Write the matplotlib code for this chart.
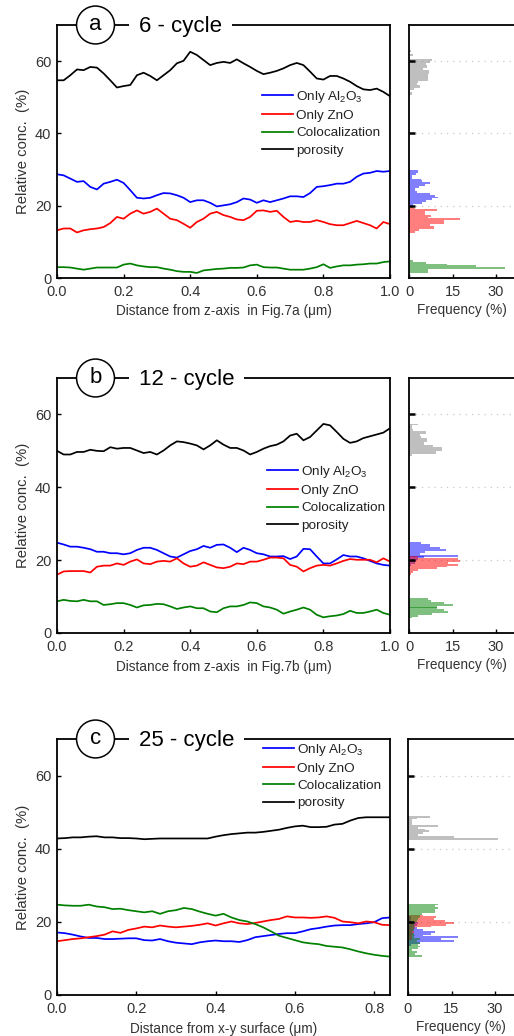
import numpy as np
import matplotlib
matplotlib.use("Agg")
import matplotlib.pyplot as plt

plt.rcParams['font.family'] = ['Liberation Sans', 'DejaVu Sans']
plt.rcParams['mathtext.fontset'] = 'custom'
plt.rcParams['mathtext.rm'] = 'Liberation Sans'
plt.rcParams['mathtext.it'] = 'Liberation Sans'
plt.rcParams['mathtext.default'] = 'regular'

# ---------------- data ----------------
x_ab = [round(0.02 * i, 2) for i in range(51)]      # 0.00 .. 1.00
x_c = [round(0.02 * i, 2) for i in range(43)]       # 0.00 .. 0.84

a_porosity = [54.7, 54.7, 56.1, 57.7, 57.5, 58.4, 58.2, 56.6, 54.7, 52.7, 53.1, 53.4, 56.1, 56.8, 55.9,
              54.7, 56.1, 57.5, 59.4, 60.1, 62.6, 61.7, 60.3, 58.9, 59.5, 59.8, 59.5, 60.5, 59.4, 58.4,
              57.3, 56.4, 56.8, 57.3, 58.0, 58.9, 59.5, 58.9, 57.1, 55.2, 54.9, 55.9, 55.9, 55.2, 54.3,
              53.1, 52.2, 52.0, 52.4, 51.5, 50.3]
a_al2o3 = [28.7, 28.4, 27.5, 26.6, 26.8, 25.2, 24.5, 26.1, 26.6, 27.2, 26.3, 24.3, 22.2, 22.0, 22.2,
           22.9, 23.5, 23.4, 22.9, 22.2, 21.0, 21.5, 21.5, 20.8, 19.8, 20.1, 20.4, 21.0, 22.0, 21.7,
           20.8, 21.5, 21.0, 21.5, 22.0, 22.6, 22.6, 22.4, 23.5, 25.2, 25.4, 25.7, 26.1, 26.1, 26.6,
           28.0, 28.9, 29.1, 29.6, 29.4, 29.6]
a_zno = [13.2, 13.7, 13.7, 12.6, 13.2, 13.5, 13.7, 14.1, 15.2, 16.9, 16.4, 17.8, 18.7, 17.8, 18.3,
         19.2, 17.8, 16.4, 16.0, 15.0, 13.9, 15.5, 16.4, 17.8, 18.3, 17.4, 16.9, 16.2, 16.0, 16.9,
         18.6, 18.7, 18.3, 18.6, 16.9, 15.5, 15.8, 15.5, 15.5, 16.0, 15.5, 14.9, 14.6, 14.6, 15.2,
         15.8, 15.2, 14.6, 13.7, 15.5, 14.9]
a_coloc = [3.0, 3.0, 2.9, 2.6, 2.3, 2.6, 2.9, 2.9, 2.9, 2.9, 3.7, 4.0, 3.5, 3.2, 3.0,
           3.0, 2.6, 2.3, 1.9, 1.7, 1.7, 1.4, 2.1, 2.3, 2.5, 2.6, 2.8, 2.8, 2.9, 3.5,
           3.7, 3.0, 2.9, 2.9, 2.6, 2.3, 2.3, 2.3, 2.6, 3.0, 3.8, 2.8, 3.2, 3.5, 3.5,
           3.7, 3.8, 4.0, 4.0, 4.4, 4.6]

b_porosity = [50.0, 49.0, 49.0, 49.7, 49.7, 50.3, 50.0, 49.9, 51.0, 50.6, 50.8, 50.8, 50.1, 49.4, 49.7,
              49.0, 50.1, 51.5, 52.6, 52.4, 52.0, 51.5, 50.4, 51.5, 52.9, 51.7, 50.8, 50.8, 50.1, 49.0,
              49.7, 50.6, 51.3, 51.7, 52.6, 54.2, 54.7, 52.9, 53.8, 55.6, 57.4, 57.0, 55.2, 53.3, 52.2,
              52.6, 53.5, 54.0, 54.5, 55.0, 56.2]
b_al2o3 = [24.8, 24.3, 23.7, 23.7, 23.4, 23.0, 22.3, 22.3, 21.9, 21.9, 21.6, 21.9, 22.8, 23.4, 23.4,
           22.8, 21.9, 21.0, 20.7, 21.6, 22.5, 23.0, 23.9, 23.4, 24.2, 24.3, 23.4, 22.2, 23.4, 22.8,
           21.9, 21.6, 21.0, 21.0, 21.1, 20.3, 21.0, 23.1, 23.0, 21.0, 19.1, 19.1, 20.2, 21.4, 21.0,
           21.0, 20.5, 19.8, 19.1, 18.7, 18.5]
b_zno = [16.0, 16.9, 17.0, 17.0, 17.0, 16.6, 18.2, 18.5, 18.5, 19.1, 18.7, 19.6, 20.2, 19.1, 18.9,
         19.6, 19.8, 19.6, 20.5, 19.1, 18.2, 18.5, 19.4, 18.7, 18.0, 17.8, 18.2, 19.1, 18.9, 19.6,
         19.6, 20.1, 20.7, 20.7, 20.5, 18.7, 18.2, 16.9, 17.8, 18.5, 18.7, 18.5, 19.1, 19.8, 20.3,
         20.1, 20.1, 20.1, 19.4, 20.5, 19.6]
b_coloc = [8.7, 9.1, 8.8, 8.7, 9.1, 8.7, 8.7, 7.7, 7.9, 8.2, 8.2, 7.7, 7.0, 7.6, 7.7,
           8.0, 7.9, 7.3, 6.6, 7.0, 7.3, 6.8, 6.8, 5.9, 5.7, 6.8, 7.3, 7.3, 7.7, 8.4,
           8.2, 7.3, 7.0, 6.4, 5.3, 5.9, 6.4, 7.0, 6.4, 5.0, 4.3, 4.6, 4.8, 5.2, 6.1,
           5.5, 5.5, 5.9, 6.4, 5.5, 5.0]

c_porosity = [42.8, 42.9, 43.1, 43.1, 43.3, 43.4, 43.1, 43.1, 42.9, 42.9, 42.8, 42.6, 42.7, 42.8, 42.8,
              42.8, 42.8, 42.8, 42.8, 42.8, 43.3, 43.7, 44.0, 44.2, 44.4, 44.4, 44.6, 44.9, 45.2, 45.7,
              46.1, 46.3, 45.9, 45.9, 46.0, 46.6, 46.8, 47.7, 48.4, 48.6, 48.6, 48.6, 48.6]
c_al2o3 = [17.1, 16.9, 16.5, 16.0, 15.6, 15.6, 15.3, 15.3, 15.4, 15.5, 15.5, 15.0, 14.9, 15.3, 14.7,
           14.3, 14.1, 13.9, 14.4, 14.7, 14.9, 14.7, 14.7, 14.5, 15.0, 15.8, 16.1, 16.4, 16.7, 16.9,
           16.9, 17.4, 18.0, 18.3, 18.7, 19.0, 19.1, 19.1, 19.4, 19.6, 19.9, 21.0, 21.2]
c_zno = [14.7, 15.0, 15.3, 15.5, 15.8, 16.1, 16.5, 17.4, 17.0, 17.8, 18.2, 18.7, 18.5, 19.0, 18.7,
         18.5, 18.7, 18.9, 19.2, 19.6, 19.0, 19.6, 20.1, 19.6, 19.4, 19.7, 20.1, 20.5, 20.8, 21.5,
         21.2, 21.2, 21.1, 21.2, 21.5, 21.1, 20.1, 19.9, 19.6, 20.1, 19.9, 19.2, 19.1]
c_coloc = [24.7, 24.5, 24.4, 24.4, 24.7, 24.2, 24.0, 23.5, 23.6, 23.2, 22.9, 22.6, 22.9, 22.2, 22.9,
           23.2, 23.8, 23.5, 22.8, 22.2, 21.7, 22.2, 21.2, 20.5, 20.1, 19.4, 18.5, 17.4, 16.2, 15.6,
           15.0, 14.4, 14.1, 13.9, 13.4, 13.2, 13.0, 12.5, 11.9, 11.4, 11.0, 10.7, 10.5]

# histograms: lowest bin edge and frequencies (%) of consecutive 0.5-wide bins
bin_width = 0.5
ha_porosity_start = 50.5
ha_porosity = [1.2, 1.2, 0.5, 1.8, 3.8, 3.8, 2.6, 3.2, 6.7, 6.7, 6.7, 6.7, 6.9, 6.9, 4.9, 6.1, 6.1,
               5.7, 7.2, 8.0, 0.0, 0.0, 1.5, 0.0, 0.7]
ha_al2o3_start = 20.0
ha_al2o3 = [1.5, 4.4, 6.0, 7.8, 9.9, 9.0, 7.2, 2.6, 2.2, 2.1, 3.5, 5.5, 7.2, 4.6, 4.0, 1.1, 1.1, 2.5,
            3.2, 3.2]
ha_zno_start = 12.5
ha_zno = [2.0, 3.4, 8.6, 8.6, 7.2, 12.0, 12.0, 17.6, 6.4, 7.5, 5.5, 5.5, 9.5, 2.1, 1.5]
ha_coloc_start = 1.5
ha_coloc = [6.5, 6.5, 33.0, 23.0, 13.0, 6.0, 1.5]

hb_porosity_start = 48.5
hb_porosity = [1.2, 9.2, 9.2, 11.5, 11.5, 8.4, 5.0, 5.0, 6.1, 6.1, 4.0, 3.8, 5.7, 5.7, 1.5, 0.9, 0.9, 3.0]
hb_al2o3_start = 18.5
hb_al2o3 = [0.8, 2.0, 2.5, 3.0, 5.0, 16.8, 3.8, 5.5, 12.6, 10.7, 7.2, 7.2, 4.1]
hb_zno_start = 16.0
hb_zno = [0.8, 1.5, 3.0, 9.5, 13.0, 17.0, 13.6, 17.6, 17.0, 3.0]
hb_coloc_start = 4.0
hb_coloc = [1.0, 3.2, 7.8, 13.6, 12.2, 9.5, 9.5, 15.1, 12.2, 7.6, 6.5]

hc_porosity_start = 42.5
hc_porosity = [31.2, 16.0, 3.5, 5.0, 7.3, 6.0, 3.5, 10.3, 1.5, 1.3, 1.3, 3.0, 7.7]
hc_al2o3_start = 13.5
hc_al2o3 = [1.0, 4.0, 16.0, 11.5, 17.2, 5.0, 8.0, 9.2, 5.0, 3.0, 2.0, 3.0, 3.5, 1.0, 1.0, 1.0]
hc_zno_start = 15.0
hc_zno = [1.5, 1.5, 1.5, 1.8, 2.0, 1.8, 2.5, 8.1, 13.2, 16.0, 12.6, 9.0, 9.8, 5.0]
hc_coloc_start = 10.5
hc_coloc = [4.7, 2.5, 3.0, 1.5, 3.5, 4.0, 3.5, 4.0, 3.0, 4.0, 2.0, 2.5, 2.0, 1.5, 2.0, 2.0, 2.5, 2.0,
            2.5, 3.0, 3.5, 4.0, 4.0, 4.7, 9.2, 9.2, 10.4, 9.2, 10.4]

labels = ['Only Al$_2$O$_3$', 'Only ZnO', 'Colocalization', 'porosity']
line_colors = ['#0000ff', '#ff0000', '#008000', '#000000']
hist_colors = ['#808080', '#0000ff', '#ff0000', '#008000']

panel_letters = ['a', 'b', 'c']
panel_titles = ['6 - cycle', '12 - cycle', '25 - cycle']
xlabels = ['Distance from z-axis  in Fig.7a (\u03bcm)',
           'Distance from z-axis  in Fig.7b (\u03bcm)',
           'Distance from x-y surface (\u03bcm)']
xticks_main = [[0.0, 0.2, 0.4, 0.6, 0.8, 1.0], [0.0, 0.2, 0.4, 0.6, 0.8, 1.0], [0.0, 0.2, 0.4, 0.6, 0.8]]
xlims_main = [1.0, 1.0, 0.84]
yticks_main = [0, 20, 40, 60]
xticks_hist = [0, 15, 30]

panels = [
    (x_ab, [a_al2o3, a_zno, a_coloc, a_porosity],
     [(ha_porosity_start, ha_porosity), (ha_al2o3_start, ha_al2o3), (ha_zno_start, ha_zno), (ha_coloc_start, ha_coloc)]),
    (x_ab, [b_al2o3, b_zno, b_coloc, b_porosity],
     [(hb_porosity_start, hb_porosity), (hb_al2o3_start, hb_al2o3), (hb_zno_start, hb_zno), (hb_coloc_start, hb_coloc)]),
    (x_c, [c_al2o3, c_zno, c_coloc, c_porosity],
     [(hc_porosity_start, hc_porosity), (hc_al2o3_start, hc_al2o3), (hc_zno_start, hc_zno), (hc_coloc_start, hc_coloc)]),
]

# ---------------- layout ----------------
W, H = 514, 1036
fig = plt.figure(figsize=(W / 100, H / 100), dpi=100)
main_boxes = [(25, 278), (378, 633), (739, 995)]   # top, bottom pixel rows
main_left, main_right = 57, 390
hist_lefts = [409, 409, 408]
legend_anchor = [(0.616, 0.748), (0.631, 0.664), (0.619, 0.990)]
txt = '#333333'
spine_w = 1.3

for i, (xs, series, hists) in enumerate(panels):
    top, bot = main_boxes[i]
    ax = fig.add_axes([main_left / W, 1 - bot / H, (main_right - main_left) / W, (bot - top) / H])
    for ys, col, lab in zip(series, line_colors, labels):
        ax.plot(xs, ys, color=col, lw=1.25, label=lab)
    ax.set_xlim(0, xlims_main[i])
    ax.set_ylim(0, 70)
    ax.set_xticks(xticks_main[i])
    ax.set_xticklabels(['%.1f' % v for v in xticks_main[i]])
    ax.set_yticks(yticks_main)
    ax.tick_params(direction='in', length=3, width=1.0, labelsize=10.5, labelcolor=txt)
    ax.tick_params(axis='x', pad=5)
    ax.tick_params(axis='y', pad=4)
    for s in ax.spines.values():
        s.set_linewidth(spine_w)
    ax.set_ylabel('Relative conc.  (%)', fontsize=10.7, color=txt, labelpad=4)
    ax.set_xlabel(xlabels[i], fontsize=9.8, color=txt, labelpad=4)
    leg = ax.legend(loc='upper left', bbox_to_anchor=legend_anchor[i], frameon=False, fontsize=9.7,
                    handlelength=2.3, handletextpad=0.25, labelspacing=0.36, borderpad=0,
                    borderaxespad=0)
    for t in leg.get_texts():
        t.set_color('#222222')
    # panel badge and title sitting on the top spine
    ax.text(0.1156, 1.0, panel_letters[i], transform=ax.transAxes, ha='center', va='center',
            fontsize=16, zorder=10, clip_on=False,
            bbox=dict(boxstyle='circle,pad=0.38', fc='white', ec='black', lw=1.1))
    ax.annotate(panel_titles[i], xy=(0.246, 1.0), xycoords='axes fraction', xytext=(0, -5.3),
                textcoords='offset points', ha='left', va='baseline', fontsize=16, zorder=10,
                annotation_clip=False,
                bbox=dict(boxstyle='square,pad=0.45', fc='white', ec='none'))

    # histogram panel
    hl = hist_lefts[i]
    hx = fig.add_axes([hl / W, 1 - bot / H, (W - hl) / W, (bot - top) / H])
    for (start, freqs), col in zip(hists, hist_colors):
        edges = [start + bin_width * k for k in range(len(freqs))]
        hx.barh(edges, freqs, height=bin_width, align='edge', color=col, alpha=0.5, linewidth=0)
    hx.set_ylim(0, 70)
    hx.set_xlim(0, (W - hl) / 2.9)
    for g in [20, 40, 60]:
        hx.axhline(g, color='#c8c8c8', lw=0.9, ls=(0, (1, 4)), zorder=0)
    hx.set_yticks([20, 40, 60])
    hx.set_yticklabels([])
    hx.set_xticks(xticks_hist)
    hx.tick_params(axis='y', direction='in', length=4, width=1.8)
    hx.tick_params(axis='x', direction='in', length=3, width=1.0, labelsize=10.5, labelcolor=txt, pad=5)
    hx.spines['right'].set_visible(False)
    for s in ['left', 'top', 'bottom']:
        hx.spines[s].set_linewidth(spine_w)
    hx.set_xlabel('Frequency (%)', fontsize=9.8, color=txt, labelpad=3)

fig.savefig('out.png', dpi=100)
